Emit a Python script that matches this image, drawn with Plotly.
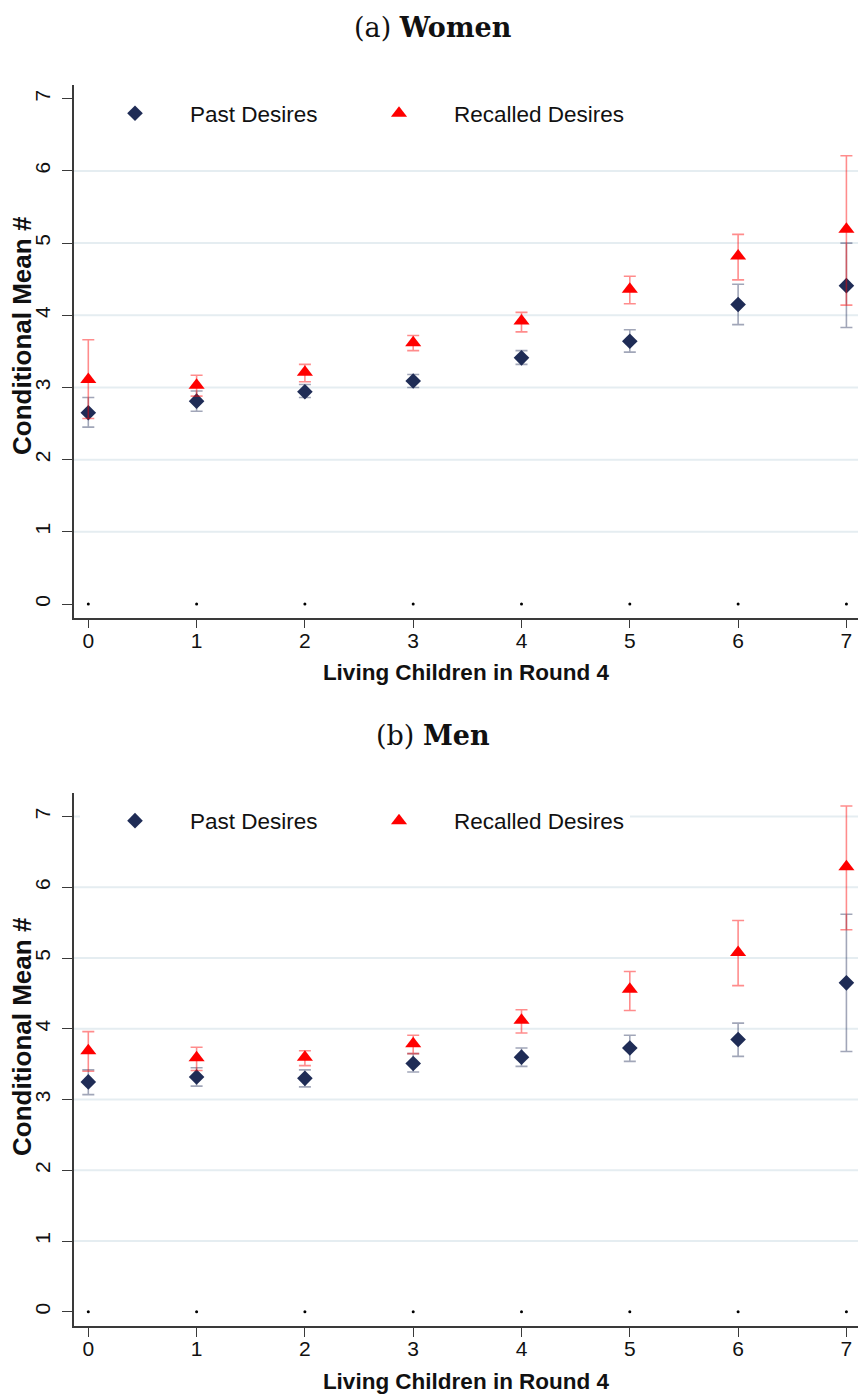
import plotly.graph_objects as go
from plotly.subplots import make_subplots

# ---------------- data ----------------
children = [0, 1, 2, 3, 4, 5, 6, 7]
x_ticks = [0, 1, 2, 3, 4, 5, 6, 7]
y_ticks = [0, 1, 2, 3, 4, 5, 6, 7]
grid_top = [1, 2, 3, 4, 5, 6]
grid_bottom = [1, 2, 3, 4, 5, 6, 7]

# Women
w_past = [2.65, 2.81, 2.94, 3.09, 3.41, 3.64, 4.15, 4.41]
w_past_lo = [2.45, 2.67, 2.86, 3.00, 3.32, 3.49, 3.87, 3.83]
w_past_hi = [2.86, 2.95, 3.04, 3.18, 3.51, 3.80, 4.43, 5.00]
w_rec = [3.11, 3.03, 3.21, 3.62, 3.92, 4.36, 4.82, 5.19]
w_rec_lo = [2.57, 2.88, 3.08, 3.51, 3.77, 4.16, 4.49, 4.14]
w_rec_hi = [3.66, 3.17, 3.32, 3.72, 4.04, 4.54, 5.12, 6.21]

# Men
m_past = [3.25, 3.32, 3.30, 3.51, 3.60, 3.73, 3.85, 4.65]
m_past_lo = [3.07, 3.19, 3.18, 3.39, 3.47, 3.54, 3.61, 3.68]
m_past_hi = [3.42, 3.45, 3.42, 3.65, 3.73, 3.91, 4.08, 5.62]
m_rec = [3.69, 3.59, 3.60, 3.79, 4.12, 4.56, 5.08, 6.29]
m_rec_lo = [3.40, 3.41, 3.48, 3.65, 3.94, 4.26, 4.61, 5.40]
m_rec_hi = [3.96, 3.74, 3.69, 3.91, 4.27, 4.81, 5.53, 7.15]

baseline = [0, 0, 0, 0, 0, 0, 0, 0]

# ---------------- style ----------------
NAVY = "#1f2c56"
NAVY_CI = "rgba(31,44,86,0.42)"
RED = "#ff0000"
RED_CI = "rgba(255,0,0,0.45)"
GRID = "#e5edf1"
AXIS = "#3a3a3a"
SANS = "Liberation Sans, Arial, sans-serif"
SERIF = "DejaVu Serif, serif"

W, H = 860, 1395
L, R, T, B = 74, 2, 85, 69
plot_h = H - T - B


def py(pix):
    """pixel y from top -> paper coordinate"""
    return (H - B - pix) / plot_h


def px(pix):
    return (pix - L) / (W - L - R)


fig = make_subplots(rows=2, cols=1, vertical_spacing=0.14)

panels = [
    (1, w_past, w_past_lo, w_past_hi, w_rec, w_rec_lo, w_rec_hi, "legend", "legend3"),
    (2, m_past, m_past_lo, m_past_hi, m_rec, m_rec_lo, m_rec_hi, "legend2", "legend4"),
]

for row, past, plo, phi, rec, rlo, rhi, leg_p, leg_r in panels:
    fig.add_trace(go.Scatter(
        x=children, y=baseline, mode="markers",
        marker=dict(symbol="circle", size=3, color="black"),
        showlegend=False, hoverinfo="skip"), row=row, col=1)
    fig.add_trace(go.Scatter(
        x=children, y=past, mode="markers", name="Past Desires",
        marker=dict(symbol="diamond", size=12, color=NAVY, line=dict(width=0)),
        error_y=dict(type="data", symmetric=False,
                     array=[h - m for h, m in zip(phi, past)],
                     arrayminus=[m - l for l, m in zip(plo, past)],
                     color=NAVY_CI, thickness=1.6, width=6),
        legend=leg_p), row=row, col=1)
    fig.add_trace(go.Scatter(
        x=children, y=rec, mode="markers", name="Recalled Desires",
        marker=dict(symbol="triangle-up", size=14, color=RED, line=dict(width=0)),
        error_y=dict(type="data", symmetric=False,
                     array=[h - m for h, m in zip(rhi, rec)],
                     arrayminus=[m - l for l, m in zip(rlo, rec)],
                     color=RED_CI, thickness=1.6, width=6),
        legend=leg_r), row=row, col=1)

# domains
top_dom = [py(617.5), 1.0]
bot_dom = [0.0, py(792.5)]

xr = [-0.132, 7.107]
axis_common = dict(
    showline=True, linecolor=AXIS, linewidth=1.6, mirror=False,
    ticks="outside", tickwidth=1.4, tickcolor=AXIS,
    zeroline=False, showgrid=False, automargin=False,
    tickfont=dict(family=SANS, size=21, color="#111"),
)
xtitle = dict(text="<b>Living Children in Round 4</b>", standoff=14,
              font=dict(family=SANS, size=22.5, color="#111"))

fig.update_layout(
    xaxis=dict(domain=[0, 1], range=xr, tickvals=x_ticks, anchor="y",
               ticklen=9, ticklabelstandoff=-6, title=xtitle, **axis_common),
    yaxis=dict(domain=top_dom, range=[-0.187, 7.19], tickvals=y_ticks, anchor="x",
               ticklen=10, tickangle=-90, ticklabelstandoff=4, **axis_common),
    xaxis2=dict(domain=[0, 1], range=xr, tickvals=x_ticks, anchor="y2",
                ticklen=9, ticklabelstandoff=-6, title=xtitle, **axis_common),
    yaxis2=dict(domain=bot_dom, range=[-0.20, 7.34], tickvals=y_ticks, anchor="x2",
                ticklen=10, tickangle=-90, ticklabelstandoff=4, **axis_common),
)

# y-axis titles (Stata places them slightly above the plot-region centre)
for ypix in (336, 1037):
    fig.add_annotation(text="<b>Conditional Mean #</b>", xref="paper", yref="paper",
                       x=px(22), y=py(ypix), textangle=-90, showarrow=False,
                       font=dict(family=SANS, size=26, color="#111"),
                       xanchor="center", yanchor="middle")

# gridlines
for yref, vals in (("y", grid_top), ("y2", grid_bottom)):
    xref = "x domain" if yref == "y" else "x2 domain"
    for v in vals:
        fig.add_shape(type="line", xref=xref, yref=yref, x0=0, x1=1, y0=v, y1=v,
                      line=dict(color=GRID, width=2), layer="below")

leg_common = dict(
    orientation="h", bgcolor="white", borderwidth=0,
    font=dict(family=SANS, size=22.5, color="#111"),
    itemwidth=100, xanchor="left", yanchor="middle",
)
fig.update_layout(
    legend=dict(x=px(80), y=py(113.6), entrywidth=150, entrywidthmode="pixels",
                **leg_common),
    legend3=dict(x=px(344), y=py(113.6), **leg_common),
    legend2=dict(x=px(80), y=py(821), entrywidth=150, entrywidthmode="pixels",
                 **leg_common),
    legend4=dict(x=px(344), y=py(821), **leg_common),
)

fig.add_annotation(text="(a) <b>Women</b>", xref="paper", yref="paper",
                   x=px(433), y=py(27),
                   showarrow=False, font=dict(family=SERIF, size=27, color="#111"),
                   xanchor="center", yanchor="middle")
fig.add_annotation(text="(b) <b>Men</b>", xref="paper", yref="paper",
                   x=px(433), y=py(735),
                   showarrow=False, font=dict(family=SERIF, size=27, color="#111"),
                   xanchor="center", yanchor="middle")

fig.update_layout(
    width=W, height=H,
    margin=dict(l=L, r=R, t=T, b=B, autoexpand=False),
    plot_bgcolor="white", paper_bgcolor="white",
    showlegend=True,
)

fig.write_html("out.html", config={"displayModeBar": False},
               post_script="document.body.style.margin='0';document.body.style.overflow='hidden';")
